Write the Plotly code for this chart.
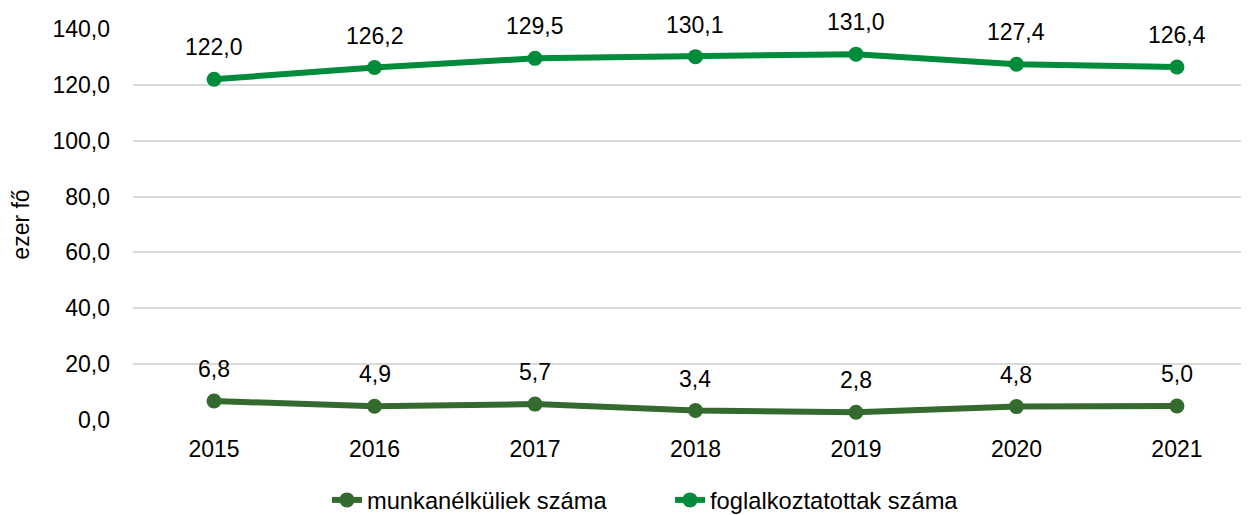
import plotly.graph_objects as go

years = ["2015", "2016", "2017", "2018", "2019", "2020", "2021"]
munkanelkuliek = [6.8, 4.9, 5.7, 3.4, 2.8, 4.8, 5.0]
foglalkoztatottak = [122.0, 126.2, 129.5, 130.1, 131.0, 127.4, 126.4]
y_ticks = [0, 20, 40, 60, 80, 100, 120, 140]

c_dark = "#346A2D"
c_bright = "#008C3A"
font_family = "Liberation Sans, Arial, sans-serif"
fs = 23

fig = go.Figure()
fig.add_trace(go.Scatter(x=years, y=munkanelkuliek, mode="lines+markers",
                         name="munkanélküliek száma", legend="legend",
                         line=dict(color=c_dark, width=6),
                         marker=dict(size=15, color=c_dark)))
fig.add_trace(go.Scatter(x=years, y=foglalkoztatottak, mode="lines+markers",
                         name="foglalkoztatottak száma", legend="legend2",
                         line=dict(color=c_bright, width=6),
                         marker=dict(size=15, color=c_bright)))

for series in (munkanelkuliek, foglalkoztatottak):
    for i, v in enumerate(series):
        fig.add_annotation(x=i, y=v, xref="x", yref="y",
                           text=f"{v:.1f}".replace(".", ","),
                           showarrow=False, yshift=32,
                           font=dict(size=fs, color="#000000", family=font_family))

leg_common = dict(orientation="h", y=-0.2046, yanchor="middle", xanchor="left",
                  font=dict(size=23.7), bgcolor="rgba(0,0,0,0)")

# page has an 8px body margin; size the figure so it ends at the window edge
fig.update_layout(
    width=1241, height=507,
    margin=dict(l=125, r=0, t=21, b=95, autoexpand=False),
    paper_bgcolor="white", plot_bgcolor="white",
    font=dict(family=font_family, size=fs, color="#000000"),
    separators=", ",
    showlegend=True,
    legend=dict(x=0.1738, **leg_common),
    legend2=dict(x=0.4812, **leg_common),
    xaxis=dict(type="category", range=[-0.505, 6.449], showgrid=False,
               showline=False, zeroline=False, ticks="", ticklabelstandoff=13,
               tickangle=0, tickfont=dict(size=fs)),
    yaxis=dict(range=[0, 140], tickvals=y_ticks, tickformat=".1f",
               showgrid=True, gridcolor="#D9D9D9", gridwidth=2,
               zeroline=False, showline=False, ticks="", ticklabelstandoff=22,
               tickfont=dict(size=fs),
               title=dict(text="ezer fő", font=dict(size=fs), standoff=22)),
)
fig.write_html("out.html")
